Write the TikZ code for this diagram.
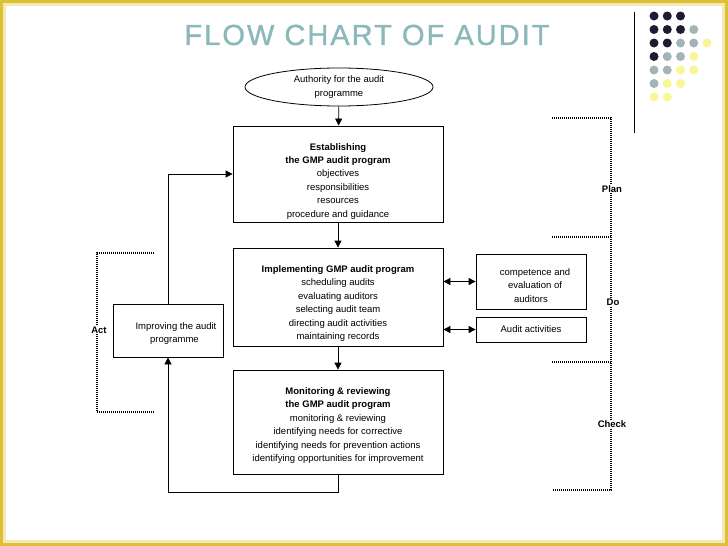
\documentclass[tikz,border=0pt]{standalone}
\usepackage{fontspec}
\setmainfont{Liberation Sans}
\newfontfamily\titlefont[LetterSpace=7,FakeBold=1.2]{Liberation Sans}
\usepackage{tikz}
\usetikzlibrary{arrows.meta,positioning,shapes.geometric}
\definecolor{titleteal}{RGB}{140,184,187}
\definecolor{dotd}{RGB}{30,28,50}
\definecolor{dotg}{RGB}{162,180,182}
\definecolor{doty}{RGB}{248,246,150}
\definecolor{framegold}{RGB}{222,192,52}
\newcommand{\pad}[1]{\rule{0pt}{#1}}

\begin{document}
\begin{tikzpicture}[x=1pt, y=-1pt, every node/.style={font=\fontsize{9.5}{13.4}\selectfont},
  box/.style={draw, line width=0.8pt, align=center, inner sep=2pt},
  arr/.style={-{Triangle[length=7pt,width=7pt]}, line width=0.8pt},
  dbl/.style={{Triangle[length=7pt,width=7pt]}-{Triangle[length=7pt,width=7pt]}, line width=0.8pt},
  dots/.style={dash pattern=on 1pt off 1pt, line width=1.1pt},
  phase/.style={fill=white, font=\fontsize{9.5}{11}\selectfont\bfseries, inner sep=1pt}]
\useasboundingbox (0,0) rectangle (728,546);
\draw[framegold!35, line width=3pt] (4.5,4.5) rectangle (723.5,541.5);
\draw[framegold, line width=3pt] (1.5,1.5) rectangle (726.5,544.5);
% title and corner decoration
\node[font=\fontsize{29}{30}\selectfont\titlefont, text=titleteal] (title) at (367,35) {FLOW CHART OF AUDIT};
\draw[line width=1pt] (634,12) -- (634,133);
\foreach \cols [count=\r] in {{d,d,d},{d,d,d,g},{d,d,g,g,y},{d,g,g,y},{g,g,y,y},{g,y,y},{y,y}}
  \foreach \c [count=\k] in \cols
    \fill[dot\c] (640.75+13.25*\k, 2.5+13.5*\r) circle (4.5);
% main flow
\node[box, ellipse, minimum width=188pt, minimum height=38pt, inner sep=0pt] (auth) at (339,87) {Authority for the audit\\programme};
\node[box, minimum width=210pt, minimum height=96pt] (est) at (338,174) {\pad{21pt}\textbf{Establishing}\\\textbf{the GMP audit program}\\objectives\\responsibilities\\resources\\procedure and guidance};
\node[box, minimum width=210pt, minimum height=98pt] (impl) at (338,297) {\pad{20pt}\textbf{Implementing GMP audit program}\\scheduling audits\\evaluating auditors\\selecting audit team\\directing audit activities\\maintaining records};
\node[box, minimum width=210pt, minimum height=104pt] (mon) at (338,422) {\pad{14pt}\textbf{Monitoring \& reviewing}\\\textbf{the GMP audit program}\\monitoring \& reviewing\\identifying needs for corrective\\identifying needs for prevention actions\\identifying opportunities for improvement};
\node[box, minimum width=110pt, minimum height=53pt] (impr) at (168,330.5) {\pad{13pt}\hspace*{16pt}Improving the audit\\\hspace*{13pt}programme};
\node[box, minimum width=110pt, minimum height=55pt] (comp) at (531,281.5) {\pad{15pt}\hspace*{8pt}competence and\\\hspace*{8pt}evaluation of\\auditors};
\node[box, minimum width=110pt, minimum height=25pt] (actv) at (531,329.5) {Audit activities};
\draw[arr] (auth) -- (est);
\draw[arr] (est) -- (impl);
\draw[arr] (impl) -- (mon);
\draw[arr] (mon.south) -- ++(0,18) -| (impr.south);
\draw[arr] (impr.north) |- (est.west);
\draw[dbl] (impl.east |- comp.west) -- (comp.west);
\draw[dbl] (impl.east |- actv.west) -- (actv.west);
% PDCA brackets
\draw[dots] (154,253) -- (97,253) -- (97,412) -- (154,412);
\node[phase] (act) at (99,330) {Act};
\draw[dots] (552,118) -- (611,118) -- (611,490) -- (552,490);
\draw[dots] (552,237) -- (611,237);
\draw[dots] (552,362) -- (611,362);
\node[phase] (plan) at (612,189) {Plan};
\node[phase] (do) at (613,302) {Do};
\node[phase] (check) at (612,424) {Check};
\end{tikzpicture}
\end{document}
